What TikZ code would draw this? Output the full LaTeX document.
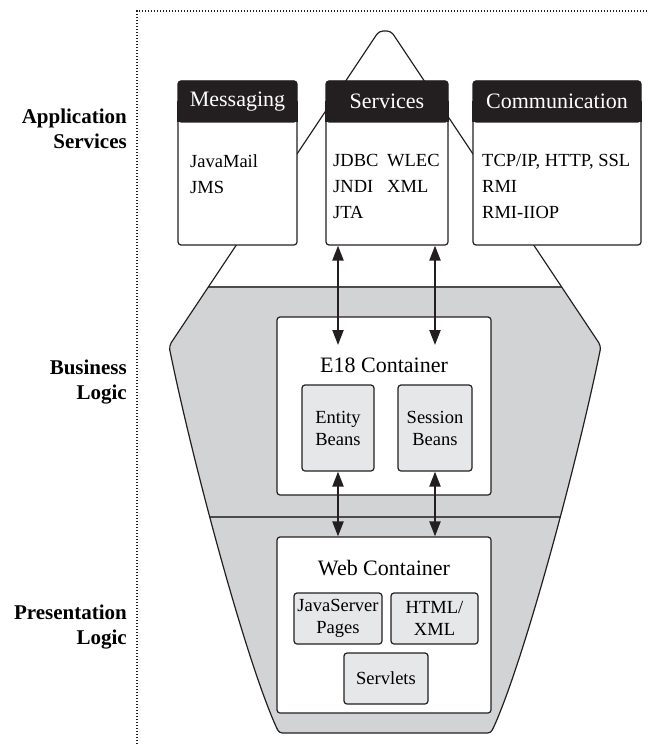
\documentclass[tikz,border=0pt]{standalone}
\usepackage{fontspec}
\setmainfont{Liberation Serif}
\usetikzlibrary{arrows.meta, calc}
\definecolor{tierfill}{HTML}{D1D3D4}
\definecolor{beanfill}{HTML}{E6E7E8}
\definecolor{inkline}{HTML}{231F20}

\begin{document}
\begin{tikzpicture}[
        x=1pt, y=-1pt,
        tierlabel/.style = {anchor=east, align=right, inner sep=0pt, font=\fontsize{21}{25}\selectfont\bfseries},
        svcbox/.style = {draw=inkline, fill=white, rounded corners=3pt, line width=1.2pt, minimum height=164pt, inner sep=0pt},
        svchead/.style = {fill=inkline, text=white, rounded corners=3pt, minimum height=42pt, inner sep=0pt, anchor=north, font=\fontsize{22}{26}\selectfont},
        svctext/.style = {anchor=north west, align=left, inner sep=0pt, font=\fontsize{18.5}{26}\selectfont},
        container/.style = {draw=inkline, fill=white, rounded corners=3pt, line width=1.2pt, minimum width=214pt, inner sep=0pt},
        clabel/.style = {inner sep=0pt, font=\fontsize{22}{26}\selectfont},
        bean/.style = {draw=inkline, fill=beanfill, rounded corners=3pt, line width=1.2pt, align=center, inner sep=0pt, font=\fontsize{18.5}{22}\selectfont},
        dblarrow/.style = {draw=inkline, line width=2.2pt, {Triangle[length=15pt, width=11pt]}-{Triangle[length=15pt, width=11pt]}},
        tierline/.style = {draw=black!70, line width=1.5pt},
        framedots/.style = {draw=inkline, line width=1.1pt, dash pattern=on 1.1pt off 1.9pt}
    ]
        \useasboundingbox (0,0) rectangle (648,744);

        % Outline of the tiers
        \def\tieroutline{(385,733) -- (480,733) .. controls (491,733) .. (496,722)
            .. controls (530,640) and (580,450) .. (601,346) -- (391,31) -- (379,31)
            -- (169,346) .. controls (190,450) and (240,640) .. (274,722)
            .. controls (279,733) .. (290,733) -- cycle}

        \begin{scope}
            \clip[rounded corners=4pt] \tieroutline;
            \fill[tierfill] (0,287) rectangle (648,744);
            \draw[tierline] (0,287) -- (648,287);
            \draw[tierline] (0,517) -- (648,517);
        \end{scope}
        \draw[inkline, line width=1.2pt, rounded corners=4pt] \tieroutline;

        % Frame
        \draw[framedots] (137,744) -- (137,11) -- (648,11);

        % Tier labels
        \node (appLabel) [tierlabel] at (127,129) {Application\\Services};
        \node (bizLabel) [tierlabel] at (127,382) {Business\\Logic};
        \node (presLabel) [tierlabel] at (127,627) {Presentation\\Logic};

        % Application services
        \node (msg) [svcbox, minimum width=119pt] at (237.5,163) {};
        \fill[inkline] ($(msg.north west)+(0,21)$) rectangle ($(msg.north east)+(0,42)$);
        \node (msgHead) [svchead, minimum width=119pt] at (msg.north) {Messaging};
        \node (msgText) [svctext] at (190,154) {JavaMail\\JMS};

        \node (srv) [svcbox, minimum width=122pt] at (387,163) {};
        \fill[inkline] ($(srv.north west)+(0,21)$) rectangle ($(srv.north east)+(0,42)$);
        \node (srvHead) [svchead, minimum width=122pt] at (srv.north) {Services};
        \node (srvText) [svctext] at (333,154) {JDBC\\JNDI\\JTA};
        \node (srvText2) [svctext] at (387,154) {WLEC\\XML};

        \node (com) [svcbox, minimum width=168pt] at (557,163) {};
        \fill[inkline] ($(com.north west)+(0,21)$) rectangle ($(com.north east)+(0,42)$);
        \node (comHead) [svchead, minimum width=168pt] at (com.north) {Communication};
        \node (comText) [svctext] at (482,154) {TCP/IP, HTTP, SSL\\RMI\\RMI-IIOP};

        % Business logic
        \node (ejb) [container, minimum height=178pt] at (384,406) {};
        \node (ejbLabel) [clabel] at (384,365) {E18 Container};
        \node (entity) [bean, minimum width=72pt, minimum height=86pt] at (338,428) {Entity\\Beans};
        \node (session) [bean, minimum width=74pt, minimum height=86pt] at (435,428) {Session\\Beans};
        \coordinate (ejbIn) at (384,345);

        % Presentation logic
        \node (web) [container, minimum height=176pt] at (384,625) {};
        \node (webLabel) [clabel] at (384,568) {Web Container};
        \node (jsp) [bean, minimum width=88pt, minimum height=51pt] at (338,618.5) {JavaServer\\Pages};
        \node (html) [bean, minimum width=87pt, minimum height=51pt] at (434.5,618.5) {HTML/\\XML};
        \node (servlets) [bean, minimum width=84pt, minimum height=51pt] at (386,678.5) {Servlets};

        % Arrows
        \draw[dblarrow] (entity.north |- srv.south) -- (entity.north |- ejbIn);
        \draw[dblarrow] (session.north |- srv.south) -- (session.north |- ejbIn);
        \draw[dblarrow] (entity.south) -- (entity.south |- web.north);
        \draw[dblarrow] (session.south) -- (session.south |- web.north);

    \end{tikzpicture}
\end{document}
